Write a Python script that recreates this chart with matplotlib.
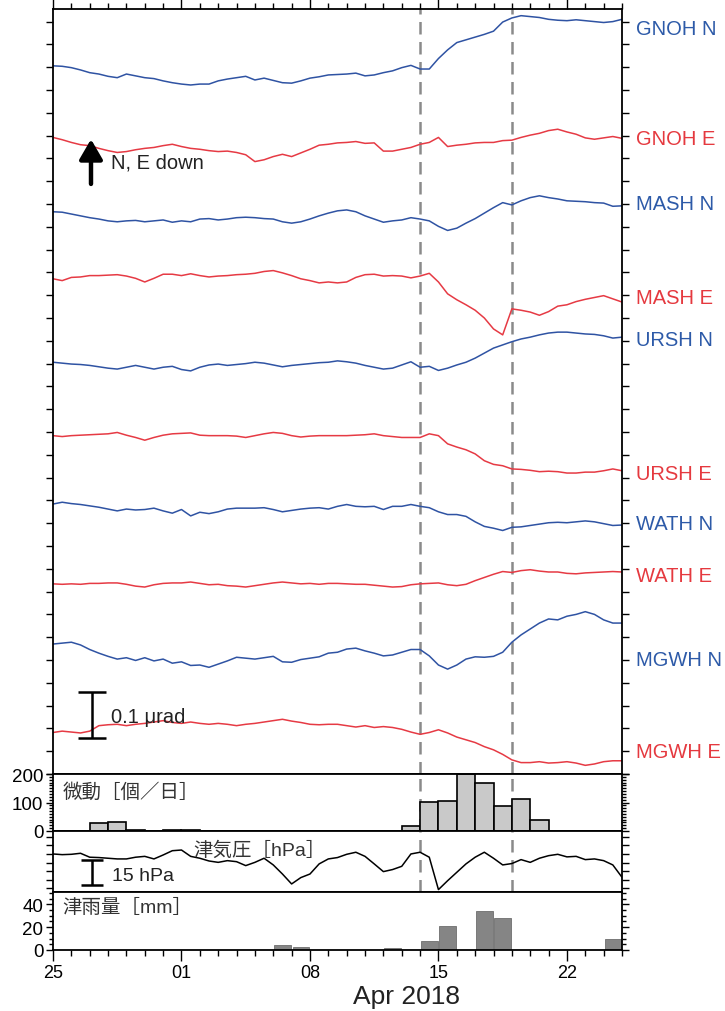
import numpy as np
import matplotlib
matplotlib.use("Agg")
import matplotlib.pyplot as plt
from matplotlib.ticker import MultipleLocator, FixedLocator

plt.rcParams['font.family'] = ['Liberation Sans', 'Noto Sans CJK JP', 'DejaVu Sans']

# ---------------- data ----------------
# time: days since 2018-03-25 00:00, one sample every half day
DAY_STEP = 0.5
N_SAMPLES = 63
days = np.arange(N_SAMPLES) * DAY_STEP

# tilt change relative to the first sample [nrad]
gnoh_n = [0, -1, -4, -9, -15, -18, -23, -26, -18, -22,
          -26, -28, -33, -37, -40, -42, -40, -40, -33, -29,
          -26, -23, -31, -27, -32, -37, -38, -33, -27, -24,
          -20, -19, -18, -16, -22, -20, -15, -11, -4, 1,
          -7, -7, 16, 35, 51, 57, 63, 69, 76, 96,
          105, 110, 108, 106, 102, 100, 99, 101, 99, 97,
          95, 97, 102]
gnoh_e = [0, -5, -11, -16, -18, -24, -29, -33, -31, -27,
          -24, -22, -18, -15, -20, -24, -26, -29, -31, -30,
          -33, -38, -53, -49, -42, -37, -42, -34, -26, -17,
          -15, -12, -11, -9, -13, -12, -30, -30, -26, -22,
          -15, -11, 0, -20, -17, -15, -12, -11, -11, -7,
          -6, 0, 5, 9, 15, 18, 12, 7, -1, -4,
          -1, 2, -2]
mash_n = [0, -1, -5, -9, -13, -16, -20, -22, -20, -19,
          -22, -20, -18, -23, -20, -22, -16, -15, -18, -16,
          -13, -12, -13, -15, -16, -22, -25, -22, -16, -9,
          -3, 2, 4, 0, -9, -16, -23, -20, -18, -13,
          -16, -20, -32, -41, -36, -25, -15, -3, 9, 20,
          15, 24, 31, 35, 31, 28, 24, 23, 22, 20,
          19, 12, 13]
mash_e = [0, -4, 3, 4, 7, 7, 8, 9, 6, 1,
          -7, 1, 10, 10, 7, 11, 7, 4, 6, 7,
          9, 10, 12, 16, 18, 13, 7, 0, -4, -9,
          -7, -9, -7, 3, 9, 10, 6, 7, 6, 2,
          6, 12, -7, -33, -46, -57, -69, -86, -110, -123,
          -66, -69, -73, -80, -72, -60, -57, -50, -45, -41,
          -37, -44, -51]
ursh_n = [0, -2, -4, -5, -7, -10, -13, -15, -11, -7,
          -11, -15, -11, -9, -16, -19, -11, -6, -4, -7,
          -5, -3, 0, -2, -6, -10, -7, -5, -3, -1,
          0, 3, 1, -2, -7, -11, -15, -13, -6, 1,
          -11, -9, -18, -13, -6, 0, 9, 20, 31, 38,
          45, 51, 55, 60, 64, 66, 66, 64, 62, 61,
          58, 53, 55]
ursh_e = [0, -2, 0, 1, 2, 3, 4, 7, 1, -4,
          -10, -4, 1, 4, 5, 6, 1, 0, 0, 0,
          -1, -4, 0, 4, 7, 5, 0, -3, -1, 0,
          0, 0, 0, 1, 2, 4, 0, -2, -4, -4,
          -4, 4, 0, -18, -25, -31, -40, -55, -63, -66,
          -73, -74, -76, -79, -78, -79, -82, -82, -80, -80,
          -77, -73, -77]
wath_n = [0, 4, 1, -1, -4, -7, -11, -15, -11, -13,
          -12, -9, -15, -20, -12, -26, -18, -21, -17, -11,
          -9, -9, -9, -8, -12, -17, -14, -11, -9, -8,
          -11, -5, -1, -5, -6, -5, -12, -5, -5, -1,
          -5, -8, -17, -23, -23, -27, -39, -49, -53, -58,
          -51, -50, -47, -44, -41, -40, -41, -39, -37, -39,
          -43, -47, -46]
wath_e = [0, -1, 0, -1, 1, 1, 2, 2, -1, -5,
          -7, -2, 1, 2, 2, 4, 1, -2, -1, -4,
          -5, -7, -4, -1, 2, 4, 2, 0, 1, -1,
          1, 1, 0, -1, -1, -3, -5, -7, -6, -2,
          0, 1, 2, -2, -4, -1, 7, 14, 21, 27,
          25, 29, 31, 28, 26, 26, 23, 22, 24, 25,
          26, 27, 26]
mgwh_n = [0, 2, 4, -2, -12, -20, -27, -33, -30, -36,
          -30, -37, -33, -42, -39, -47, -46, -51, -44, -37,
          -29, -31, -33, -30, -27, -39, -40, -34, -31, -28,
          -20, -18, -11, -9, -15, -20, -26, -24, -18, -12,
          -12, -26, -46, -55, -46, -33, -28, -29, -27, -18,
          4, 20, 33, 46, 55, 53, 61, 65, 71, 65,
          53, 46, 46]
mgwh_e = [0, 3, 1, -1, 3, 15, 17, 18, 15, 18,
          20, 23, 26, 22, 20, 23, 20, 18, 20, 18,
          15, 18, 20, 23, 26, 29, 25, 22, 18, 17,
          18, 18, 15, 12, 15, 11, 13, 11, 7, 1,
          -4, 0, 6, -1, -10, -16, -22, -31, -38, -48,
          -60, -66, -66, -64, -67, -66, -64, -67, -72, -69,
          -64, -62, -62]

stations = ["GNOH N", "GNOH E", "MASH N", "MASH E", "URSH N",
            "URSH E", "WATH N", "WATH E", "MGWH N", "MGWH E"]
traces = [gnoh_n, gnoh_e, mash_n, mash_e, ursh_n,
          ursh_e, wath_n, wath_e, mgwh_n, mgwh_e]

# tremor count per day (day index from 2018-03-25)
tremor_counts = [0, 0, 27, 30, 3, 0, 2, 2, 0, 0,
                 0, 0, 0, 0, 0, 0, 0, 0, 0, 18,
                 103, 106, 200, 167, 88, 113, 40, 0, 0, 0, 0]
# pressure anomaly [hPa], half-day samples
pressure = [0, -0.4, -0.2, 0.4, -1.9, -2.1, -2.5, -2.9, -2.9, -1.9,
            -1.4, -2.9, -0.6, 1.9, 2.3, -1.4, -2.5, -4.1, -4.9, -3.9,
            -4.5, -6.8, -4.9, -2.5, -6.4, -11.7, -17.5, -13.8, -11.7, -5.8,
            -2.9, -2.1, -0.2, 1.0, -1.4, -5.8, -10.3, -9.1, -7.2, 0,
            1.0, -1.9, -20.8, -15.6, -10.7, -5.8, -1.9, 1.0, -2.5, -6.4,
            -5.6, -3.3, -4.9, -2.5, -1.0, -0.2, -1.7, -1.4, -3.3, -2.9,
            -3.9, -6.4, -13.6]
# daily rainfall [mm]
rain_mm = [0, 0, 0, 0, 0, 0, 0, 0, 0, 0,
           0, 0, 4, 3, 0, 0, 0, 0, 2, 0,
           7.5, 21, 0, 34.5, 28, 0, 0, 0, 0, 0, 10]

event_days = [20.0, 25.0]
xtick_days = [0, 7, 14, 21, 28]
xtick_labels = ["25", "01", "08", "15", "22"]

# ---------------- styling / layout ----------------
BLUE = "#2f53a3"
RED = "#e63a44"
trace_colors = [BLUE, RED] * 5
label_colors = ["#2d5aa8", "#e5393f"] * 5
trace_offsets = [1.553, 1.396, 1.233, 1.086, 0.903, 0.742, 0.592, 0.417, 0.285, 0.091]
label_y = [1.635, 1.393, 1.250, 1.044, 0.952, 0.660, 0.550, 0.436, 0.250, 0.050]

W, H = 725, 1012
fig = plt.figure(figsize=(W / 100, H / 100), dpi=100)
L = 53 / W
AW = 569 / W


def rect(top_px, bot_px):
    return [L, 1 - bot_px / H, AW, (bot_px - top_px) / H]


ax = fig.add_axes(rect(10, 775))
ax_t = fig.add_axes(rect(775, 832), sharex=ax)
ax_p = fig.add_axes(rect(832, 893), sharex=ax)
ax_r = fig.add_axes(rect(893, 951), sharex=ax)

for a in (ax, ax_t, ax_p, ax_r):
    for s in a.spines.values():
        s.set_linewidth(1.3)
    a.tick_params(axis='y', which='both', left=True, right=True, direction='out',
                  width=1, labelright=False)
    a.tick_params(axis='y', which='major', length=5)
    a.tick_params(axis='y', which='minor', length=3)

ax.set_xlim(0, 31)
ax.xaxis.set_major_locator(FixedLocator(xtick_days))
ax.xaxis.set_minor_locator(MultipleLocator(1))

# main tilt panel
for vals, off, col in zip(traces, trace_offsets, trace_colors):
    ax.plot(days, off + np.asarray(vals) / 1000.0, color=col, lw=1.1)
ax.set_ylim(0, 765 / 456)
ax.yaxis.set_major_locator(MultipleLocator(0.05))
ax.tick_params(axis='y', labelleft=False)
ax.tick_params(axis='x', which='both', top=True, bottom=False, labelbottom=False,
               direction='out', width=1)
ax.tick_params(axis='x', which='major', length=8)
ax.tick_params(axis='x', which='minor', length=4)

for name, yl, col in zip(stations, label_y, label_colors):
    ax.text(1.0246, yl, name, transform=ax.get_yaxis_transform(), color=col,
            fontsize=14.5, va='center', ha='left', clip_on=False)

# direction arrow
ax.annotate('', xy=(2.07, 1.392), xytext=(2.07, 1.294),
            arrowprops=dict(arrowstyle='-|>,head_length=0.55,head_width=0.32',
                            lw=3.2, color='black', mutation_scale=22,
                            shrinkA=0, shrinkB=0))
ax.text(3.15, 1.342, "N, E down", fontsize=14.5, va='center', ha='left', color='#222222')

# 0.1 urad scale bar
ax.errorbar([2.1], [0.1295], yerr=[0.05], color='black', lw=1.8, capsize=10,
            capthick=1.8)
ax.text(3.15, 0.127, "0.1 \u03bcrad", fontsize=14.5, va='center', ha='left', color='#222222')

# tremor panel
ax_t.bar(np.arange(len(tremor_counts)), tremor_counts, width=1.0, align='edge',
         color='#c9c9c9', edgecolor='black', linewidth=1.2, zorder=2)
ax_t.set_ylim(0, 200)
ax_t.yaxis.set_major_locator(FixedLocator([0, 100, 200]))
ax_t.yaxis.set_minor_locator(MultipleLocator(10))
ax_t.tick_params(axis='y', labelsize=13.5, pad=2)
ax_t.tick_params(axis='x', which='both', bottom=False, top=False, labelbottom=False)
ax_t.text(0.0176, 0.70, "微動［個／日］", transform=ax_t.transAxes, fontsize=14,
          va='center', ha='left', color='#333333')

# pressure panel
ax_p.plot(days, pressure, color='black', lw=1.1)
ax_p.set_ylim(-22.2, 13.4)
ax_p.yaxis.set_major_locator(MultipleLocator(5))
ax_p.tick_params(axis='y', labelleft=False)
ax_p.tick_params(axis='x', which='both', bottom=False, top=False, labelbottom=False)
ax_p.errorbar([2.1], [-10.8], yerr=[7.5], color='black', lw=1.8, capsize=8, capthick=1.8)
ax_p.text(0.1037, 0.267, "15 hPa", transform=ax_p.transAxes, fontsize=14,
          va='center', ha='left', color='#222222')
ax_p.text(0.246, 0.69, "津気圧［hPa］", transform=ax_p.transAxes, fontsize=14,
          va='center', ha='left', color='#333333')

# rain panel
ax_r.bar(np.arange(len(rain_mm)) + 0.5, rain_mm, width=0.9, color='#858585',
         edgecolor='#6e6e6e', linewidth=0.6)
ax_r.set_ylim(0, 50.7)
ax_r.yaxis.set_major_locator(FixedLocator([0, 20, 40]))
ax_r.yaxis.set_minor_locator(MultipleLocator(5))
ax_r.tick_params(axis='y', labelsize=13.5, pad=2)
ax_r.tick_params(axis='x', which='both', bottom=True, top=False, direction='out', width=1,
                 labelsize=13, pad=2)
ax_r.tick_params(axis='x', which='major', length=8)
ax_r.tick_params(axis='x', which='minor', length=4)
ax_r.set_xticks(xtick_days)
ax_r.set_xticklabels(xtick_labels)
ax_r.text(0.0158, 0.74, "津雨量［mm］", transform=ax_r.transAxes, fontsize=14,
          va='center', ha='left', color='#333333')

# event lines
for a in (ax, ax_t, ax_p):
    for d in event_days:
        a.axvline(d, color='#8a8a8a', lw=1.8, ls=(0, (5, 3)), zorder=0)

fig.text(406 / W, 1 - 997 / H, "Apr 2018", fontsize=19, ha='center', va='center',
         color='#222222')

fig.savefig("out.png", dpi=100)
